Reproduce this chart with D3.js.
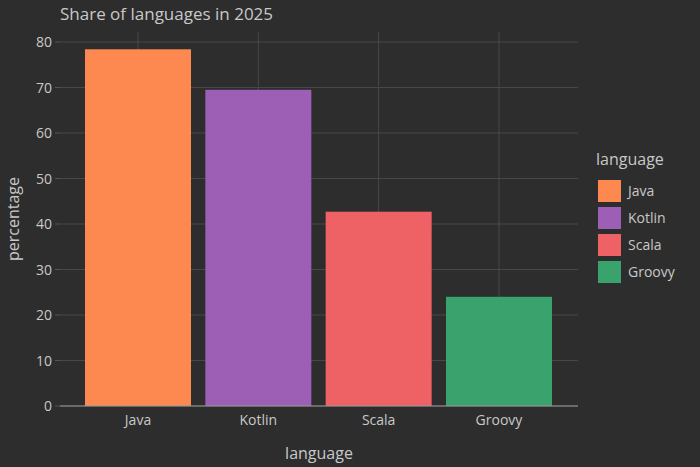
<!DOCTYPE html><html><head><meta charset="utf-8"><script src="https://cdn.jsdelivr.net/npm/d3@7"></script>
<style>body{margin:0;background:#2d2d2d}text{font-family:"Open Sans",sans-serif}</style></head><body><svg width="700" height="467"></svg>
<script>
const categories=["Java","Kotlin","Scala","Groovy"];
const values=[78.4,69.5,42.7,24.0];
const colors=["#fd8850","#9c5fb5","#ee6265","#3aa36d"];
const yTicks=[0,10,20,30,40,50,60,70,80];
const svg=d3.select("svg");
svg.append("rect").attr("width",700).attr("height",467).attr("fill","#2d2d2d");
const L=60,R=578,T=32,B=406;
const x=d3.scalePoint().domain(categories).range([138,499]);
const y=d3.scaleLinear().domain([0,80]).range([B,42]);
const g=svg.append("g");
yTicks.forEach(t=>{g.append("line").attr("x1",L).attr("x2",R).attr("y1",y(t)).attr("y2",y(t)).attr("stroke","#484848");
g.append("line").attr("x1",L-5).attr("x2",L).attr("y1",y(t)).attr("y2",y(t)).attr("stroke","#555");
g.append("text").attr("x",L-8).attr("y",y(t)+5).attr("text-anchor","end").attr("fill","#c8c8c8").attr("font-size",14).text(t);});
categories.forEach(c=>{g.append("line").attr("x1",x(c)).attr("x2",x(c)).attr("y1",T).attr("y2",B).attr("stroke","#484848");
g.append("text").attr("x",x(c)).attr("y",B+19).attr("text-anchor","middle").attr("fill","#c8c8c8").attr("font-size",14).text(c);});
const bw=106;
g.selectAll(".bar").data(categories).join("rect").attr("x",c=>x(c)-bw/2).attr("width",bw)
 .attr("y",(c,i)=>y(values[i])).attr("height",(c,i)=>B-y(values[i])).attr("fill",(c,i)=>colors[i]);
g.append("line").attr("x1",L).attr("x2",R).attr("y1",B).attr("y2",B).attr("stroke","#9a9a9a");
svg.append("text").attr("x",60).attr("y",20).attr("fill","#c8c8c8").attr("font-size",17).text("Share of languages in 2025");
svg.append("text").attr("x",319).attr("y",459).attr("text-anchor","middle").attr("fill","#c8c8c8").attr("font-size",16).text("language");
svg.append("text").attr("transform","translate(19,219) rotate(-90)").attr("text-anchor","middle").attr("fill","#c8c8c8").attr("font-size",16).text("percentage");
svg.append("text").attr("x",596).attr("y",165).attr("fill","#c8c8c8").attr("font-size",16).text("language");
categories.forEach((c,i)=>{const yy=180+i*27;
svg.append("rect").attr("x",598).attr("y",yy).attr("width",23).attr("height",22).attr("fill",colors[i]);
svg.append("text").attr("x",628).attr("y",yy+16).attr("fill","#c8c8c8").attr("font-size",14).text(c);});
</script></body></html>
